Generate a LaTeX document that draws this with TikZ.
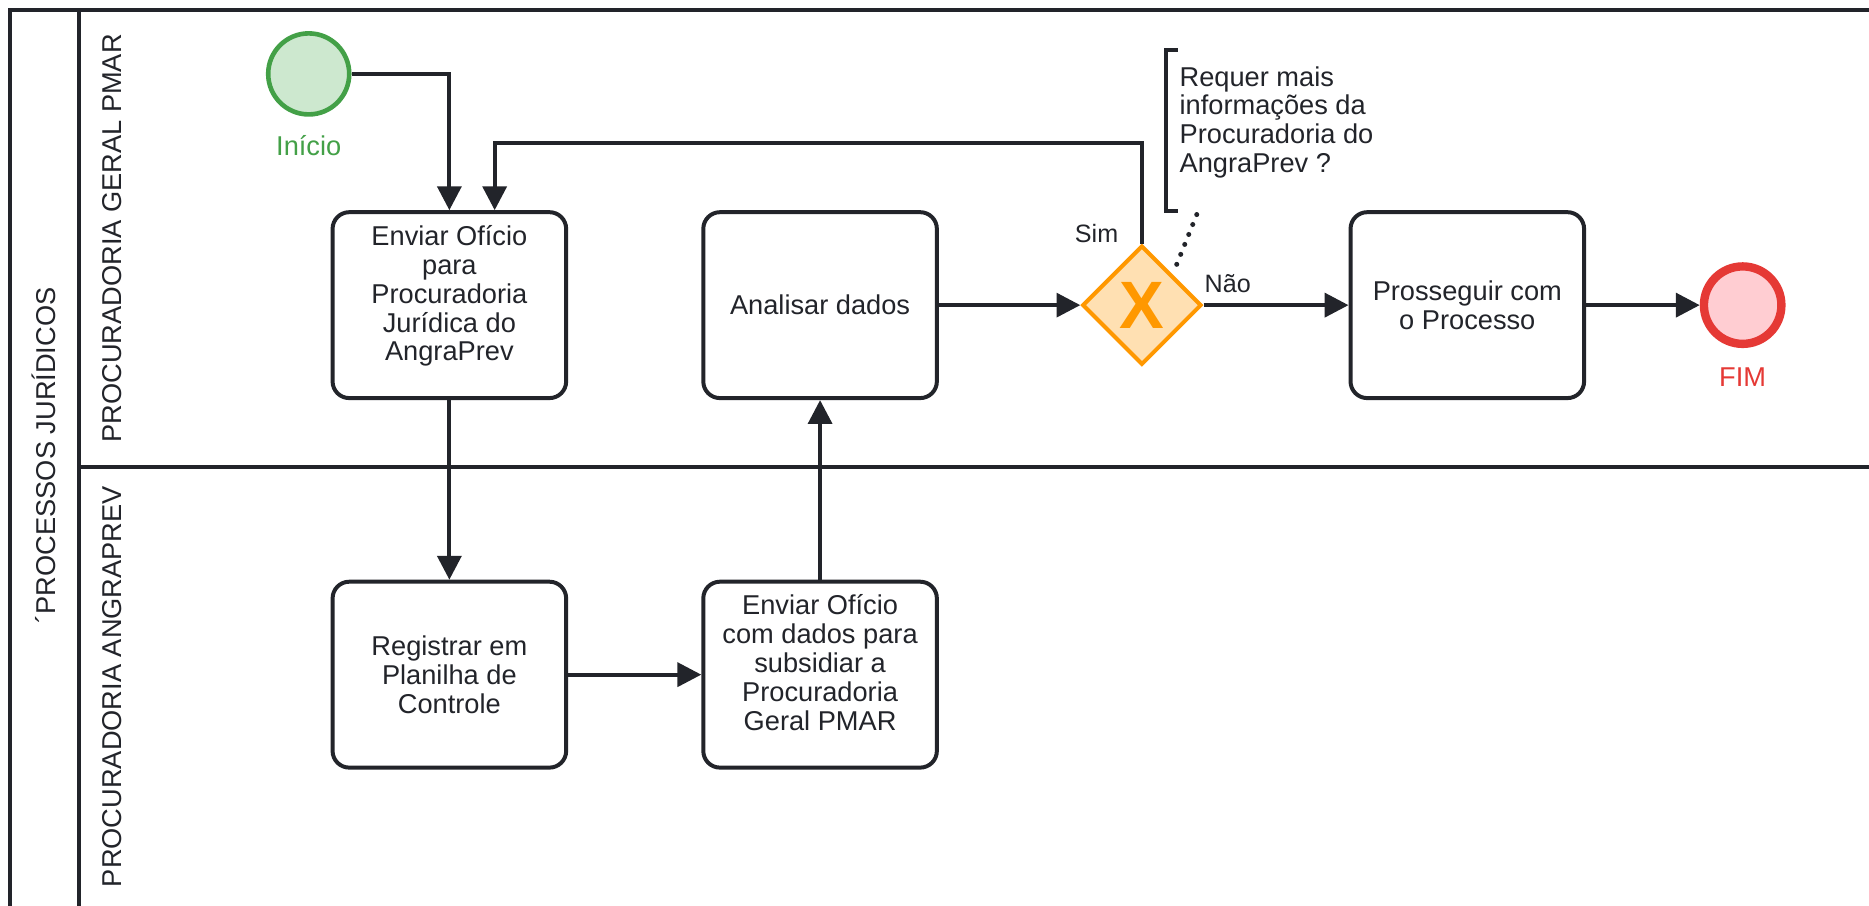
\documentclass[tikz,border=0pt]{standalone}
\usepackage{fontspec}
\setmainfont{Liberation Sans}
\usetikzlibrary{arrows.meta,shapes.geometric}
\definecolor{linha}{HTML}{22242A}
\definecolor{verdeborda}{HTML}{43A047}
\definecolor{verdefundo}{HTML}{CDE8CF}
\definecolor{vermelhoborda}{HTML}{E53935}
\definecolor{vermelhofundo}{HTML}{FFCDD2}
\definecolor{laranja}{HTML}{FF9800}
\definecolor{laranjafundo}{HTML}{FFE0B2}
\begin{document}
\begin{tikzpicture}[x=0.02cm, y=-0.02cm, line width=1.9pt, draw=linha,
    every node/.style={align=center, text=linha, font=\fontsize{13}{13.8}\selectfont},
    tarefa/.style={draw=linha, fill=white, rounded corners=0.28cm, minimum width=3.92cm, minimum height=3.12cm, inner sep=2pt},
    cincolinhas/.style={text depth=11.5pt},
    raia/.style={rotate=90},
    fluxo/.style={-{Triangle[length=0.4cm,width=0.4cm]}, draw=linha}]
    \useasboundingbox (0,0) rectangle (1568,760);
    \fill[white] (0,0) rectangle (1568,760);
    \draw (8,8) rectangle (1600,800);
    \draw (66,8) -- (66,800);
    \draw (66,392) -- (1600,392);
    \node[raia] (pool) at (37,382) {´PROCESSOS JURÍDICOS};
    \node[raia] (raiapmar) at (94,200) {PROCURADORIA GERAL PMAR};
    \node[raia] (raiaangra) at (94,576) {PROCURADORIA ANGRAPREV};

    \node[circle, draw=verdeborda, fill=verdefundo, line width=2.2pt, minimum size=1.36cm] (inicio) at (259,62) {};
    \node[text=verdeborda] (rotuloinicio) at (259,122) {Início};
    \node[tarefa, cincolinhas] (enviar) at (377,256) {Enviar Ofício\\para\\Procuradoria\\Jurídica do\\AngraPrev};
    \node[tarefa] (analisar) at (688,256) {Analisar dados};
    \node[diamond, draw=laranja, fill=laranjafundo, minimum width=2cm, minimum height=2cm, inner sep=0pt, text=laranja, font=\fontsize{32}{32}\selectfont\bfseries] (decisao) at (958,256) {X};
    \node[tarefa] (prosseguir) at (1231,256) {Prosseguir com\\o Processo};
    \node[circle, draw=vermelhoborda, fill=vermelhofundo, line width=4pt, minimum size=1.3cm] (fim) at (1462,256) {};
    \node[text=vermelhoborda] (rotulofim) at (1462,316) {FIM};
    \node[tarefa] (registrar) at (377,566) {Registrar em\\Planilha de\\Controle};
    \node[tarefa, cincolinhas] (enviardados) at (688,566) {Enviar Ofício\\com dados para\\subsidiar a\\Procuradoria\\Geral PMAR};

    \draw (988,42) -- (978,42) -- (978,177) -- (988,177);
    \node[anchor=north west, align=left, inner sep=0pt] (nota) at (988,54) {Requer mais\\informações da\\Procuradoria do\\AngraPrev ?};
    \coordinate (pontanota) at (1004,180);
    \draw[line width=2.4pt, line cap=round, dash pattern=on 0pt off 0.18cm, shorten >=0.12cm] (pontanota) -- (decisao.north east);
    \node[font=\fontsize{12}{12}\selectfont] (sim) at (920,196) {Sim};
    \node[font=\fontsize{12}{12}\selectfont] (nao) at (1030,238) {Não};

    \coordinate (retorno) at (415,120);
    \draw[fluxo] (inicio) -| (enviar);
    \draw[fluxo] (decisao.north) |- (retorno) -- (retorno |- enviar.north);
    \draw[fluxo] (enviar) -- (registrar);
    \draw[fluxo] (registrar) -- (enviardados);
    \draw[fluxo] (enviardados) -- (analisar);
    \draw[fluxo] (analisar) -- (decisao);
    \draw[fluxo] (decisao) -- (prosseguir);
    \draw[fluxo] (prosseguir) -- (fim);
\end{tikzpicture}
\end{document}
